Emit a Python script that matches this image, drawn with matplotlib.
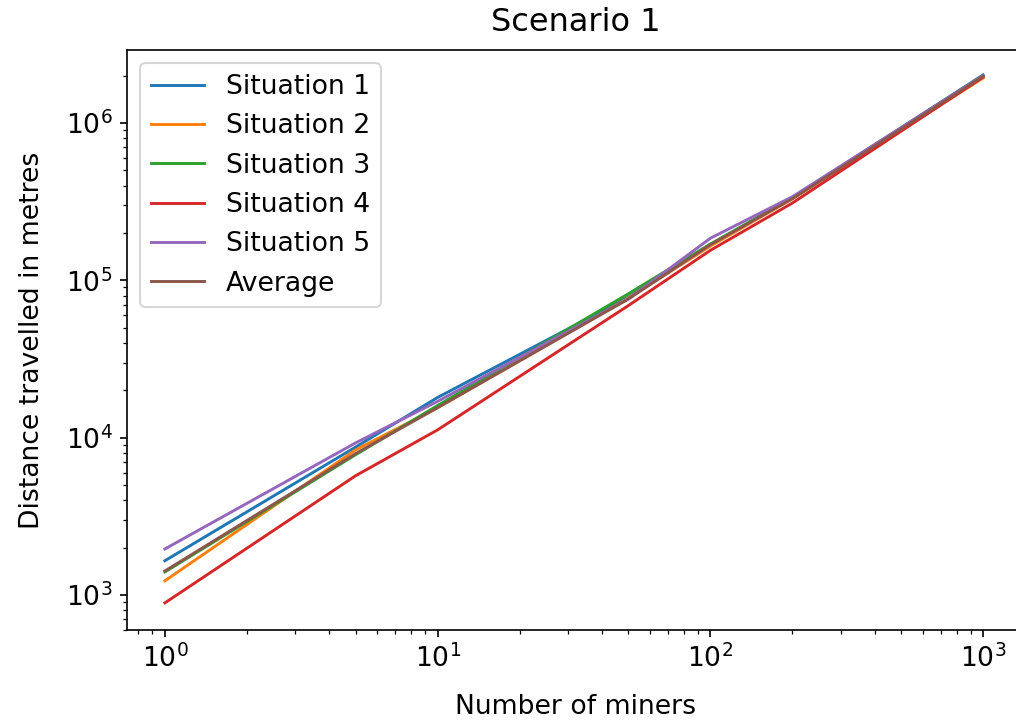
import matplotlib
matplotlib.use("Agg")
import matplotlib.pyplot as plt

# Number of miners in each run
miners = [1, 5, 10, 50, 100, 200, 1000]

# Total distance travelled (metres) for each situation
situation_1 = [1650, 8700, 18000, 78000, 168000, 335000, 2020000]
situation_2 = [1230, 8350, 15500, 77000, 165000, 330000, 1930000]
situation_3 = [1400, 7780, 16000, 82000, 170000, 335000, 2000000]
situation_4 = [890, 5720, 11200, 69000, 155000, 310000, 1960000]
situation_5 = [1960, 9250, 17000, 76000, 185000, 340000, 2000000]
average = [1420, 7900, 15500, 76000, 168500, 330000, 1980000]

series = [
    ("Situation 1", situation_1),
    ("Situation 2", situation_2),
    ("Situation 3", situation_3),
    ("Situation 4", situation_4),
    ("Situation 5", situation_5),
    ("Average", average),
]

plt.rcParams["font.size"] = 12.8

fig = plt.figure(figsize=(1016 / 150, 721 / 150), dpi=150)
ax = fig.add_axes([0.125, 0.1262, 0.8829, 0.8045])

for name, values in series:
    ax.plot(miners, values, label=name, linewidth=1.4)

ax.set_xscale("log")
ax.set_yscale("log")
ax.set_xlim(10 ** -0.139, 10 ** 3.150)
ax.set_ylim(10 ** 2.777, 10 ** 6.464)

ax.set_title("Scenario 1", pad=9)
ax.set_xlabel("Number of miners", labelpad=10)
ax.set_ylabel("Distance travelled in metres", labelpad=10)
ax.legend(loc="upper left")

fig.savefig("out.png", dpi=150)
